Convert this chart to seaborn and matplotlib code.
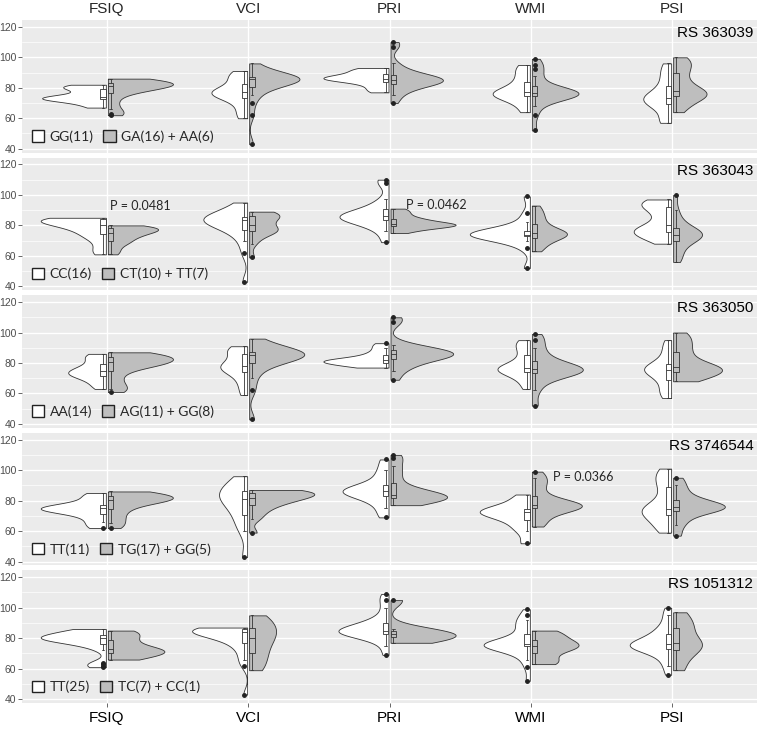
import pandas as pd
import seaborn as sns
import matplotlib.pyplot as plt
from matplotlib.patches import Patch
from matplotlib.ticker import MultipleLocator
from matplotlib.transforms import blended_transform_factory

# tests (columns) and SNPs (rows)
tests = ["FSIQ", "VCI", "PRI", "WMI", "PSI"]
snps = ["RS 363039", "RS 363043", "RS 363050", "RS 3746544", "RS 1051312"]
ref_labels = ["GG(11)", "CC(16)", "AA(14)", "TT(11)", "TT(25)"]
alt_labels = ["GA(16) + AA(6)", "CT(10) + TT(7)", "AG(11) + GG(8)", "TG(17) + GG(5)", "TC(7) + CC(1)"]

# scores, per SNP, genotype group and test
ref_363039 = {
    "FSIQ": [67, 70, 72, 73, 73, 74, 75, 78, 80, 81, 82],
    "VCI": [60, 66, 72, 75, 76, 77, 78, 80, 85, 88, 91],
    "PRI": [77, 80, 83, 85, 86, 86, 87, 88, 90, 92, 93],
    "WMI": [64, 70, 74, 75, 76, 77, 78, 82, 86, 91, 95],
    "PSI": [57, 59, 68, 71, 72, 73, 74, 78, 84, 90, 96],
}
alt_363039 = {
    "FSIQ": [62, 63, 66, 70, 74, 77, 78, 79, 80, 81, 81, 82, 82, 83, 83, 84, 84, 85, 85, 86],
    "VCI": [43, 62, 70, 75, 78, 80, 82, 84, 85, 85, 85, 86, 86, 86, 86, 86, 87, 87, 88, 90, 93, 96],
    "PRI": [70, 75, 78, 80, 82, 83, 84, 84, 85, 85, 85, 86, 86, 87, 88, 90, 92, 96, 107, 110],
    "WMI": [52, 62, 68, 72, 74, 75, 76, 76, 76, 76, 77, 77, 77, 78, 80, 84, 88, 92, 95, 99],
    "PSI": [64, 68, 72, 74, 75, 76, 77, 78, 80, 84, 88, 92, 95, 98, 100],
}
ref_363043 = {
    "FSIQ": [61, 65, 70, 73, 75, 77, 79, 80, 81, 82, 83, 84, 84, 85, 85, 85],
    "VCI": [43, 62, 70, 75, 78, 80, 82, 83, 84, 84, 85, 85, 86, 88, 92, 95],
    "PRI": [69, 76, 80, 82, 84, 85, 85, 86, 86, 87, 88, 90, 93, 97, 108, 110],
    "WMI": [52, 65, 70, 72, 73, 74, 74, 74, 74, 75, 75, 76, 78, 82, 88, 99],
    "PSI": [68, 71, 73, 75, 76, 77, 78, 80, 84, 88, 91, 93, 95, 96, 97],
}
alt_363043 = {
    "FSIQ": [61, 64, 67, 69, 70, 72, 73, 74, 75, 76, 77, 77, 78, 78, 79, 80, 80],
    "VCI": [59, 68, 72, 75, 76, 77, 77, 78, 80, 82, 84, 85, 86, 87, 88, 89, 89],
    "PRI": [75, 77, 78, 79, 80, 80, 80, 81, 81, 82, 83, 84, 85, 87, 89, 91],
    "WMI": [63, 66, 69, 71, 72, 74, 74, 75, 75, 76, 78, 80, 83, 86, 89, 93],
    "PSI": [56, 60, 64, 68, 70, 72, 73, 74, 74, 75, 76, 78, 80, 84, 90, 100],
}
ref_363050 = {
    "FSIQ": [63, 66, 69, 71, 72, 73, 74, 75, 76, 78, 80, 83, 85, 86],
    "VCI": [59, 65, 70, 74, 76, 77, 78, 79, 82, 86, 88, 90, 91],
    "PRI": [77, 78, 79, 80, 81, 81, 82, 82, 83, 85, 87, 90, 93],
    "WMI": [63, 68, 72, 74, 75, 76, 77, 77, 78, 82, 86, 90, 93, 95],
    "PSI": [57, 60, 64, 68, 72, 74, 75, 76, 77, 78, 80, 85, 90, 95],
}
alt_363050 = {
    "FSIQ": [61, 63, 66, 70, 74, 77, 78, 79, 80, 81, 82, 82, 83, 84, 85, 86, 86, 87],
    "VCI": [43, 62, 70, 76, 79, 81, 83, 84, 85, 85, 86, 86, 86, 87, 87, 88, 90, 93, 96],
    "PRI": [69, 75, 78, 80, 82, 84, 85, 85, 86, 86, 86, 87, 88, 89, 90, 92, 107, 110],
    "WMI": [52, 62, 68, 72, 73, 74, 75, 75, 76, 76, 77, 78, 80, 82, 86, 90, 95, 99],
    "PSI": [68, 70, 72, 74, 75, 76, 77, 78, 80, 84, 88, 92, 96, 100],
}
ref_3746544 = {
    "FSIQ": [62, 66, 70, 73, 74, 75, 75, 76, 78, 82, 85],
    "VCI": [43, 60, 66, 72, 76, 80, 82, 84, 86, 88, 92, 96],
    "PRI": [69, 75, 80, 83, 85, 86, 86, 87, 88, 90, 95, 100, 107],
    "WMI": [52, 60, 64, 68, 70, 72, 73, 73, 74, 76, 80, 84],
    "PSI": [59, 62, 66, 70, 72, 74, 74, 75, 78, 85, 90, 94, 98, 101],
}
alt_3746544 = {
    "FSIQ": [62, 65, 68, 71, 74, 76, 78, 79, 80, 81, 81, 82, 82, 83, 84, 85, 86, 86],
    "VCI": [59, 68, 72, 75, 77, 79, 80, 81, 82, 83, 84, 85, 85, 86, 86, 87, 87],
    "PRI": [77, 78, 80, 81, 81, 82, 82, 82, 83, 83, 84, 85, 86, 88, 90, 95, 99, 103, 108, 110],
    "WMI": [63, 66, 70, 73, 75, 76, 76, 77, 77, 77, 78, 80, 83, 88, 92, 95, 99],
    "PSI": [57, 64, 68, 72, 74, 75, 75, 76, 76, 77, 78, 80, 82, 86, 90, 95],
}
ref_1051312 = {
    "FSIQ": [61, 62, 63, 64, 72, 75, 76, 77, 78, 79, 79, 80, 80, 80, 80, 81, 81, 81, 82, 83, 84, 85, 85, 86, 86],
    "VCI": [43, 62, 66, 70, 74, 76, 78, 80, 81, 82, 83, 84, 84, 85, 85, 85, 86, 86, 86, 87, 87, 87, 87],
    "PRI": [69, 75, 79, 81, 82, 83, 83, 84, 84, 85, 85, 86, 87, 88, 89, 90, 92, 95, 100, 105, 109],
    "WMI": [52, 61, 66, 69, 72, 74, 75, 75, 75, 75, 75, 76, 76, 76, 77, 78, 80, 82, 85, 88, 90, 92, 95, 99],
    "PSI": [56, 62, 66, 70, 72, 73, 74, 75, 75, 76, 76, 77, 78, 80, 82, 84, 86, 90, 95, 100],
}
alt_1051312 = {
    "FSIQ": [66, 69, 71, 72, 74, 78, 82, 85],
    "VCI": [59, 66, 72, 78, 82, 86, 90, 95],
    "PRI": [77, 79, 81, 82, 83, 84, 86, 105],
    "WMI": [63, 66, 72, 74, 76, 78, 82, 85],
    "PSI": [59, 68, 74, 76, 78, 86, 90, 97],
}

ref_groups = [ref_363039, ref_363043, ref_363050, ref_3746544, ref_1051312]
alt_groups = [alt_363039, alt_363043, alt_363050, alt_3746544, alt_1051312]

pal = {"ref": "white", "alt": "#BEBEBE"}
edge = "#333333"

sns.set_theme(style="darkgrid", rc={"axes.facecolor": "#EBEBEB", "grid.color": "white"})
plt.rcParams["font.family"] = ["Liberation Sans", "DejaVu Sans"]

fig, axes = plt.subplots(5, 1, figsize=(7.6, 7.29), dpi=100)
fig.subplots_adjust(left=0.029, right=0.996, top=0.9726, bottom=0.0357, hspace=0.038)

for i, ax in enumerate(axes):
    rows = []
    for t in tests:
        rows += [(t, "ref", v) for v in ref_groups[i][t]]
        rows += [(t, "alt", v) for v in alt_groups[i][t]]
    df = pd.DataFrame(rows, columns=["test", "group", "score"])

    sns.violinplot(data=df, x="test", y="score", hue="group", order=tests,
                   hue_order=["ref", "alt"], split=True, inner=None, cut=0,
                   density_norm="area", bw_adjust=0.7, width=0.95, gap=0.03,
                   palette=pal, linewidth=0.6, linecolor=edge, legend=False, ax=ax)
    sns.boxplot(data=df, x="test", y="score", hue="group", order=tests,
                hue_order=["ref", "alt"], dodge=True, width=0.11, gap=0.3,
                palette=pal, linewidth=0.6, linecolor=edge, fliersize=2.5,
                flierprops=dict(marker="o", markerfacecolor="#222222", markeredgecolor="#222222"),
                legend=False, ax=ax)

    ax.set_xlim(-0.6, 4.6)
    ax.set_ylim(37.5, 124.5)
    ax.set_yticks([40, 60, 80, 100, 120])
    ax.yaxis.set_minor_locator(MultipleLocator(10))
    ax.grid(which="major", color="white", linewidth=1.0)
    ax.grid(which="minor", axis="y", color="white", linewidth=0.5)
    ax.set_xlabel("")
    ax.set_ylabel("")
    ax.tick_params(axis="y", which="major", length=3, width=0.6, color="#4D4D4D",
                   labelsize=7.5, labelcolor="#4D4D4D", pad=1, left=True)
    ax.tick_params(axis="y", which="minor", length=0)
    if i < 4:
        ax.tick_params(axis="x", labelbottom=False, bottom=False)
    else:
        ax.tick_params(axis="x", length=3, width=0.6, color="#4D4D4D", labelsize=11,
                       labelcolor="black", pad=3, bottom=True)
    for s in ax.spines.values():
        s.set_visible(False)

    ax.text(0.995, 0.90, snps[i], transform=ax.transAxes, ha="right", va="center",
            fontsize=11, color="black")

    handles = [Patch(facecolor="white", edgecolor="#222222", linewidth=1.0),
               Patch(facecolor="#BEBEBE", edgecolor="#222222", linewidth=1.0)]
    ax.legend(handles, [ref_labels[i], alt_labels[i]], loc="lower left",
              bbox_to_anchor=(-0.004, -0.02), ncol=2, frameon=False,
              handlelength=0.9, handleheight=0.9, handletextpad=0.4, columnspacing=0.7,
              prop={"family": ["Lato", "DejaVu Sans"], "size": 10})

# test names above the first panel
trans = blended_transform_factory(axes[0].transData, axes[0].transAxes)
for j, t in enumerate(tests):
    axes[0].text(j, 1.08, t, transform=trans, ha="center", va="center", fontsize=11)

# p-values
pfont = {"family": ["Lato", "DejaVu Sans"], "size": 9}
axes[1].text(0.02, 93, "P = 0.0481", ha="left", va="center", fontdict=pfont)
axes[1].text(2.12, 93.5, "P = 0.0462", ha="left", va="center", fontdict=pfont)
axes[3].text(3.155, 95.5, "P = 0.0366", ha="left", va="center", fontdict=pfont)

fig.savefig("out.png", dpi=100)
